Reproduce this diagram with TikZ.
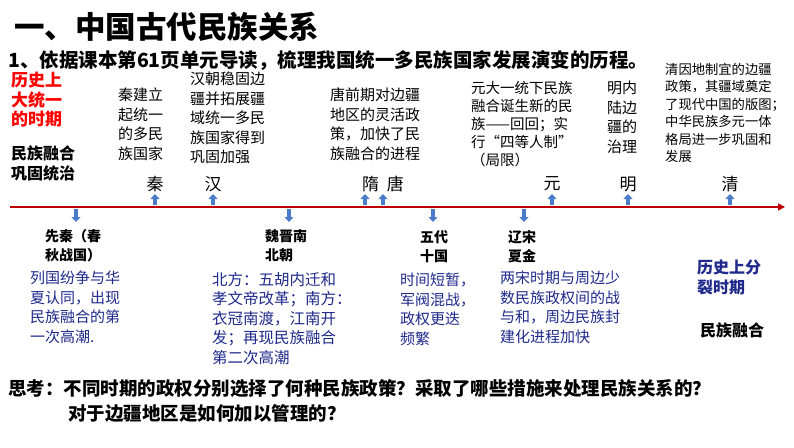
\documentclass[tikz,border=0pt]{standalone}
\usepackage{fontspec}
\setmainfont{Noto Sans CJK SC}
\usetikzlibrary{arrows.meta}
\definecolor{navy}{HTML}{1F2A8C}
\definecolor{barblue}{HTML}{4A7CC9}
\definecolor{axisred}{HTML}{C00000}
\tikzset{
 txt/.style={anchor=north west,align=left,inner sep=0pt,font=\fontsize{15}{19.5}\selectfont},
 lab/.style={anchor=north west,align=left,inner sep=0pt,font=\fontsize{14}{19}\selectfont\bfseries},
 per/.style={anchor=center,inner sep=0pt,font=\fontsize{17}{18}\selectfont},
 up/.style={draw=barblue,line width=3.5pt,-{Triangle[width=9pt,length=5pt]}},
}
\begin{document}
\begin{tikzpicture}[x=1pt,y=-1pt]
\useasboundingbox[fill=white] (0,0) rectangle (794,447);
\node[anchor=west,inner sep=0pt,font=\fontsize{30.5}{32}\selectfont\bfseries] (title) at (14,27) {一、中国古代民族关系};
\node[anchor=west,inner sep=0pt,font=\fontsize{19.5}{22}\selectfont\bfseries] (q1) at (8,61) {1、依据课本第61页单元导读，梳理我国统一多民族国家发展演变的历程。};
\node[lab,text=red,font=\fontsize{17}{19.5}\selectfont\bfseries] (red) at (11,72) {历史上\\大统一\\的时期};
\node[lab,font=\fontsize{16}{20}\selectfont\bfseries] (rh) at (11,145) {民族融合\\巩固统治};
\node[txt] (t1) at (118,88) {秦建立\\起统一\\的多民\\族国家};
\node[txt] (t2) at (190,72) {汉朝稳固边\\疆并拓展疆\\域统一多民\\族国家得到\\巩固加强};
\node[txt] (t3) at (330,88) {唐前期对边疆\\地区的灵活政\\策，加快了民\\族融合的进程};
\node[txt,font=\fontsize{14.5}{18}\selectfont] (t4) at (471,81) {元大一统下民族\\融合诞生新的民\\族——回回；实\\行“四等人制”\\（局限）};
\node[txt] (t5) at (607,81) {明内\\陆边\\疆的\\治理};
\node[txt,font=\fontsize{13.3}{17.5}\selectfont] (t6) at (665,63) {清因地制宜的边疆\\政策，其疆域奠定\\了现代中国的版图；\\中华民族多元一体\\格局进一步巩固和\\发展};
\coordinate (a0) at (10,207); \coordinate (a1) at (785,207);
\draw[axisred,line width=1.6pt,-{Triangle[width=7pt,length=7pt]}] (a0) -- (a1);
\foreach \n/\x/\t in {qin/155/秦,han/213/汉,sui/383/隋\ \ 唐,yuan/552/元,ming/628/明,qing/730/清}{
 \node[per] (\n) at (\x,184) {\t};
 \draw[up] (\x,205) -- (\x,194);
}
\draw[up] (365,205) -- (365,194);
\foreach \x in {76,289,433,524}{ \draw[up] (\x,209) -- (\x,222); }
\node[lab] (b1) at (45,229) {先秦（春\\秋战国）};
\node[txt,text=navy] (c1) at (30,271) {列国纷争与华\\夏认同，出现\\民族融合的第\\一次高潮.};
\node[lab] (b2) at (265,229) {魏晋南\\北朝};
\node[txt,text=navy,font=\fontsize{15.5}{19.5}\selectfont] (c2) at (212,272) {北方：五胡内迁和\\孝文帝改革；南方：\\衣冠南渡，江南开\\发；再现民族融合\\第二次高潮};
\node[lab] (b3) at (420,230) {五代\\十国};
\node[txt,text=navy] (c3) at (400,273) {时间短暂，\\军阀混战，\\政权更迭\\频繁};
\node[lab] (b4) at (508,230) {辽宋\\夏金};
\node[txt,text=navy] (c4) at (500,271) {两宋时期与周边少\\数民族政权间的战\\与和，周边民族封\\建化进程加快};
\node[lab,text=navy,font=\fontsize{16}{20}\selectfont\bfseries] (sp) at (697,260) {历史上分\\裂时期};
\node[lab,font=\fontsize{16}{20}\selectfont\bfseries] (mr) at (700,322) {民族融合};
\node[anchor=west,inner sep=0pt,font=\fontsize{18.5}{22}\selectfont\bfseries] (think) at (8,389) {思考：不同时期的政权分别选择了何种民族政策？采取了哪些措施来处理民族关系的？};
\node[anchor=west,inner sep=0pt,font=\fontsize{18.5}{22}\selectfont\bfseries] (think2) at (68,413) {对于边疆地区是如何加以管理的？};
\end{tikzpicture}
\end{document}
